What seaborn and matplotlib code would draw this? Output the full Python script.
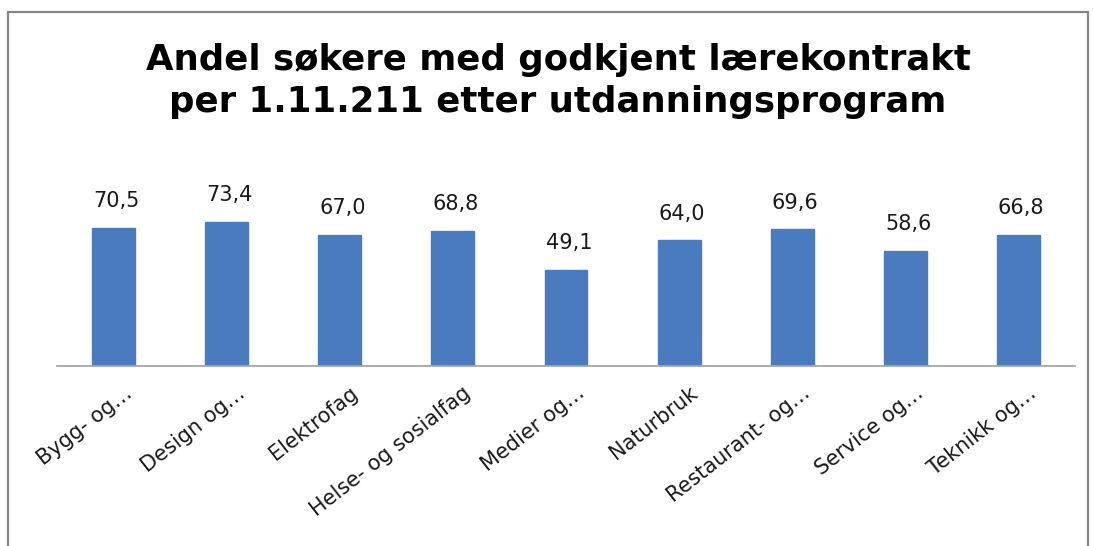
import seaborn as sns
import matplotlib.pyplot as plt
import matplotlib.transforms as mtransforms
from matplotlib.patches import Rectangle
import pandas as pd

# Data
programmes = ["Bygg- og…", "Design og…", "Elektrofag", "Helse- og sosialfag",
              "Medier og…", "Naturbruk", "Restaurant- og…", "Service og…", "Teknikk og…"]
shares = [70.5, 73.4, 67.0, 68.8, 49.1, 64.0, 69.6, 58.6, 66.8]
title = "Andel søkere med godkjent lærekontrakt\nper 1.11.211 etter utdanningsprogram"

df = pd.DataFrame({"program": programmes, "andel": shares})

sns.set_style("white")
plt.rcParams["font.family"] = ["DejaVu Sans"]

fig = plt.figure(figsize=(10.93, 5.46), dpi=100)
ax = fig.add_axes([57 / 1093, 180 / 546, 1018 / 1093, 157 / 546])

sns.barplot(data=df, x="program", y="andel", color="#4a7bbf", width=0.38,
            saturation=1, ax=ax, edgecolor="#4a7bbf")
ax.set_ylim(0, 80)
ax.set_xlim(-0.5, len(programmes) - 0.5)
ax.set_xlabel("")
ax.set_ylabel("")
ax.set_yticks([])
for s in ["top", "right", "left"]:
    ax.spines[s].set_visible(False)
ax.spines["bottom"].set_color("#a6a6a6")
ax.spines["bottom"].set_linewidth(1.3)
ax.tick_params(axis="x", length=0, pad=10)

# value labels
for i, v in enumerate(shares):
    ax.annotate(f"{v:.1f}".replace(".", ","), (i, v), xytext=(2, 12),
                textcoords="offset points", ha="center", va="bottom",
                fontsize=15, color="#1a1a1a")

# rotated tick labels
ax.set_xticks(range(len(programmes)))
ax.set_xticklabels(programmes, rotation=38, ha="right", rotation_mode="anchor",
                   fontsize=15, color="#1a1a1a")
offset = mtransforms.ScaledTranslation(7 / 72, -2 / 72, fig.dpi_scale_trans)
for lab in ax.get_xticklabels():
    lab.set_transform(lab.get_transform() + offset)

fig.text(558 / 1093, 0.852, title, ha="center", va="center", fontsize=25.6,
         fontweight="bold", linespacing=1.28, color="#000000")

# chart border
fig.patches.append(Rectangle((8 / 1093, -0.05), 1080 / 1093, 1.05 - 12 / 546,
                             transform=fig.transFigure, fill=False,
                             edgecolor="#868686", linewidth=1.6))

fig.savefig("out.png", dpi=100, facecolor="white")
